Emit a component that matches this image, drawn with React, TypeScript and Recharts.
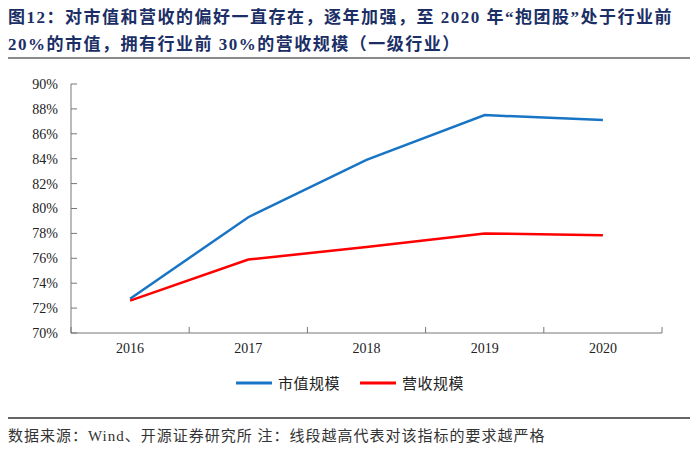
import React from "react";
import { LineChart, Line, XAxis, YAxis, Legend } from "recharts";

const years = [2016, 2017, 2018, 2019, 2020];
const marketCap = [72.75, 79.3, 83.9, 87.5, 87.1];
const revenue = [72.6, 75.9, 76.9, 78.0, 77.85];
const yTicks = [70, 72, 74, 76, 78, 80, 82, 84, 86, 88, 90];
const xTicks = [2015.5, 2016, 2016.5, 2017, 2017.5, 2018, 2018.5, 2019, 2019.5, 2020, 2020.5];
const seriesNames = ["市值规模", "营收规模"];
const seriesColors = ["#1874C4", "#FF0000"];

const data = years.map((y, i) => ({ year: y, a: marketCap[i], b: revenue[i] }));

const serif = '"Liberation Serif", "Times New Roman", "Noto Sans CJK SC", serif';

const XTick = (props: any) => {
  const { x, y, payload } = props;
  const v = payload.value;
  if (Number.isInteger(v)) {
    return (
      <text x={x} y={y + 20} textAnchor="middle" fontFamily={serif} fontSize={14} fill="#222">
        {v}
      </text>
    );
  }
  return <line x1={x} x2={x} y1={y} y2={y - 6} stroke="#777" strokeWidth={1} />;
};

const LegendContent = (props: any) => {
  const { payload } = props;
  return (
    <div style={{ display: "flex", justifyContent: "center", alignItems: "center", fontFamily: serif, fontSize: 15, color: "#222", letterSpacing: 0.5 }}>
      {payload.map((p: any, i: number) => (
        <div key={i} style={{ display: "flex", alignItems: "center", marginLeft: i ? 20 : 0 }}>
          <svg width={36} height={6} style={{ marginRight: 6 }}>
            <line x1={0} x2={36} y1={3} y2={3} stroke={p.color} strokeWidth={3} />
          </svg>
          <span>{p.value}</span>
        </div>
      ))}
    </div>
  );
};

export default function App() {
  return (
    <div style={{ position: "absolute", left: 0, top: 0, width: 700, height: 449, background: "#fff", overflow: "hidden" }}>
      <div
        style={{
          position: "absolute",
          left: 8,
          top: 4,
          width: 690,
          fontFamily: serif,
          fontWeight: "bold",
          fontSize: 17,
          letterSpacing: 1.5,
          lineHeight: "27px",
          color: "#1B2F66",
          whiteSpace: "nowrap",
        }}
      >
        <div>图12：对市值和营收的偏好一直存在，逐年加强，至 2020 年“抱团股”处于行业前</div>
        <div>20%的市值，拥有行业前 30%的营收规模（一级行业）</div>
      </div>
      <div style={{ position: "absolute", left: 8, top: 57, width: 682, height: 2, background: "#8a8a8a" }} />
      <div style={{ position: "absolute", left: 0, top: 60 }}>
        <LineChart width={700} height={340} data={data} margin={{ top: 24, right: 38, left: 0, bottom: 4 }}>
          <XAxis
            dataKey="year"
            type="number"
            domain={[2015.5, 2020.5]}
            ticks={xTicks}
            interval={0}
            tickLine={false}
            tickSize={0}
            tickMargin={0}
            tick={<XTick />}
            axisLine={{ stroke: "#777", strokeWidth: 1 }}
            height={39}
          />
          <YAxis
            domain={[70, 90]}
            ticks={yTicks}
            interval={0}
            width={71}
            tickSize={-6}
            tickMargin={19}
            tickFormatter={(v: number) => `${v}%`}
            tick={{ fontFamily: serif, fontSize: 14, fill: "#222" }}
            tickLine={{ stroke: "#777" }}
            axisLine={{ stroke: "#777", strokeWidth: 1 }}
          />
          <Legend verticalAlign="bottom" height={24} content={<LegendContent />} wrapperStyle={{ left: 0, width: 700 }} />
          <Line type="linear" dataKey="a" name={seriesNames[0]} stroke={seriesColors[0]} strokeWidth={2.5} dot={false} isAnimationActive={false} />
          <Line type="linear" dataKey="b" name={seriesNames[1]} stroke={seriesColors[1]} strokeWidth={2.5} dot={false} isAnimationActive={false} />
        </LineChart>
      </div>
      <div style={{ position: "absolute", left: 8, top: 417, width: 682, height: 1.5, background: "#666" }} />
      <div
        style={{
          position: "absolute",
          left: 8,
          top: 424,
          fontFamily: serif,
          fontSize: 15,
          letterSpacing: 1,
          color: "#333",
          whiteSpace: "nowrap",
        }}
      >
        数据来源：Wind、开源证券研究所 注：线段越高代表对该指标的要求越严格
      </div>
    </div>
  );
}
